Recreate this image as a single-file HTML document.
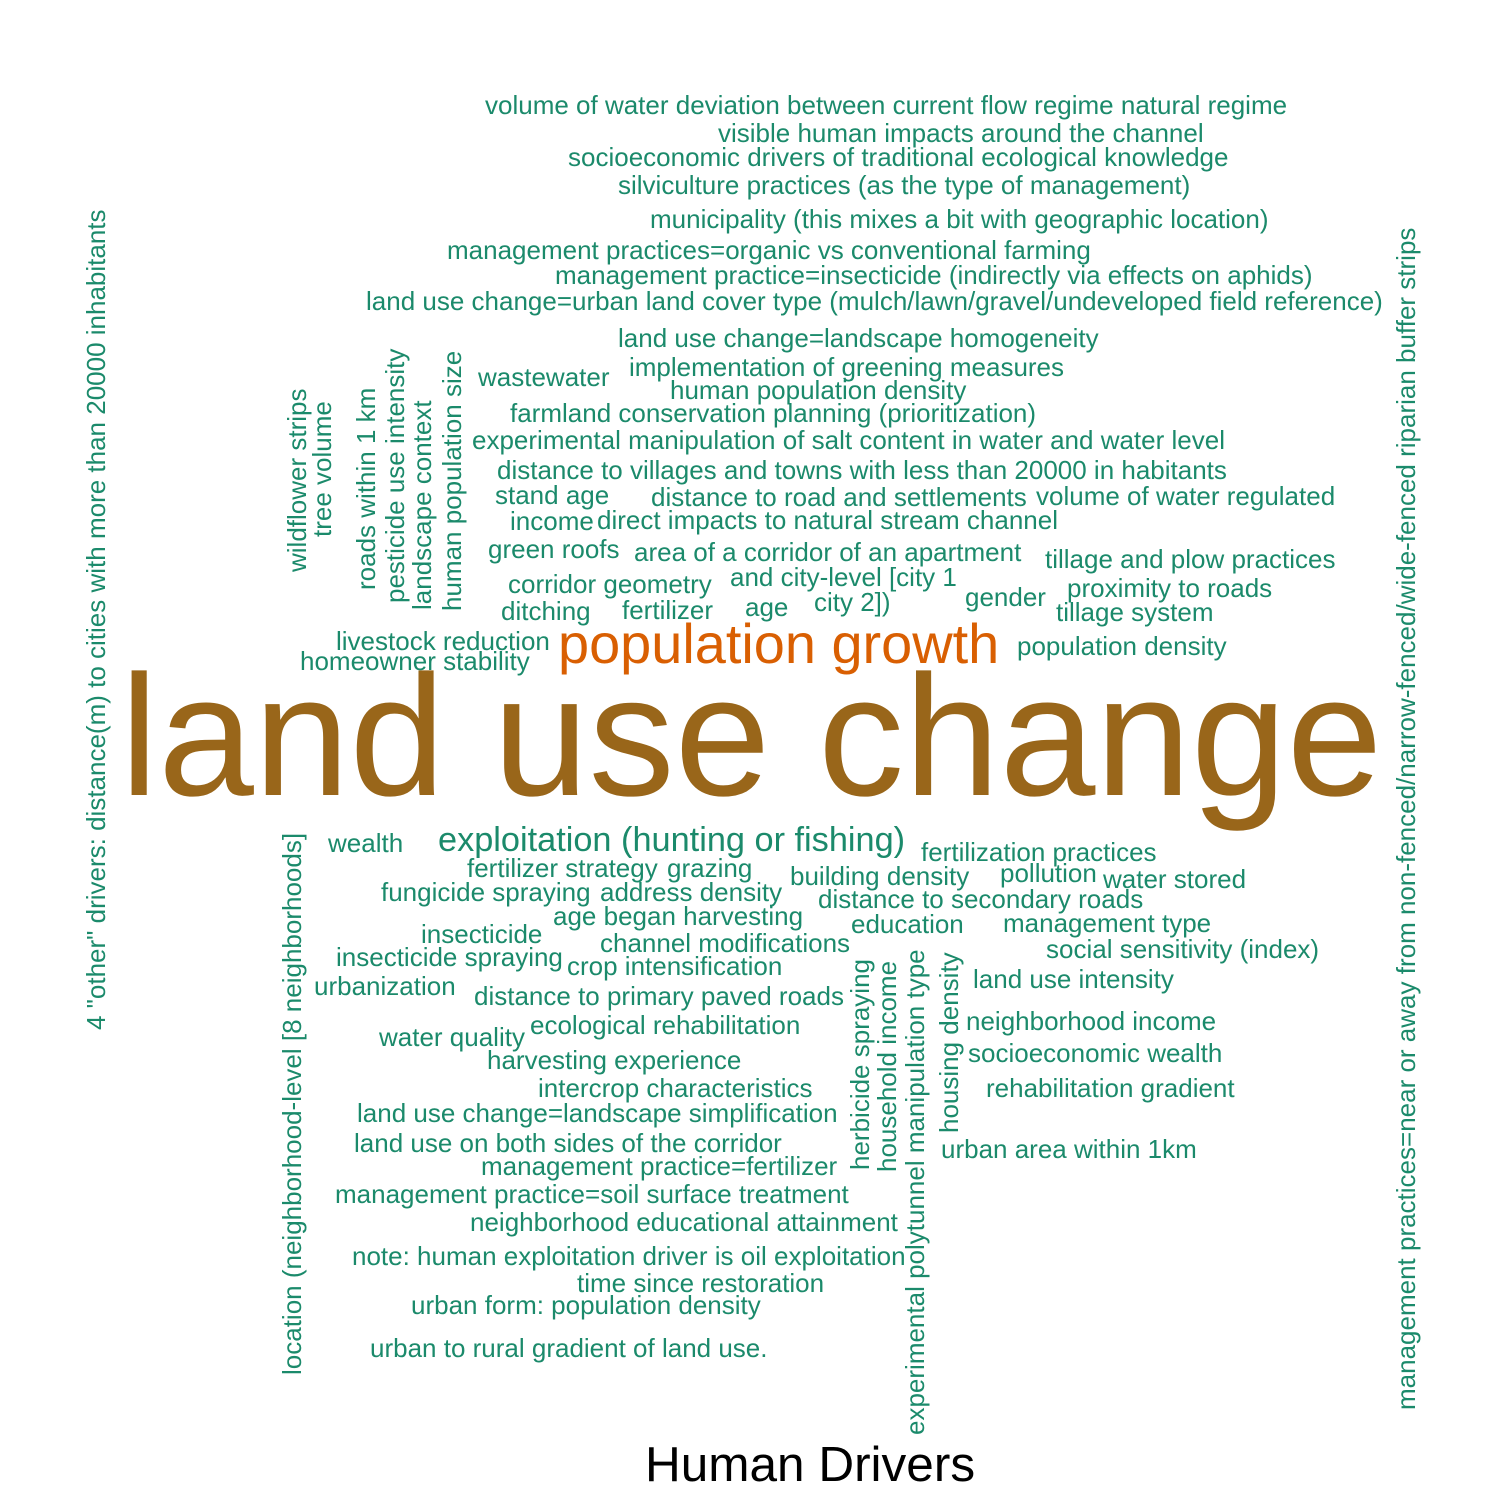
<!DOCTYPE html>
<html><head><meta charset="utf-8"><style>
html,body{margin:0;padding:0;background:#fff;}
svg{display:block;}
text{font-family:"Liberation Sans",Arial,sans-serif;}
</style></head><body>
<svg id="cloud" width="1500" height="1500" viewBox="0 0 1500 1500" xmlns="http://www.w3.org/2000/svg">
<rect width="1500" height="1500" fill="#fff"/>
<text x="645" y="1481" font-size="49.5" fill="#000">Human Drivers</text>
</svg>
<script>
const G="#1b8a6b";
const words=["land use change","population growth","exploitation (hunting or fishing)"];
const bigX=[120,558,438], bigY=[795,663,851], bigSize=[172,55.9,34.3], bigColor=["#99661a","#d95f02",G];
const small=[
["volume of water deviation between current flow regime natural regime",485,105],
["visible human impacts around the channel",718,133],
["socioeconomic drivers of traditional ecological knowledge",568,157],
["silviculture practices (as the type of management)",618,185],
["municipality (this mixes a bit with geographic location)",650,219],
["management practices=organic vs conventional farming",447,250],
["management practice=insecticide (indirectly via effects on aphids)",555,275],
["land use change=urban land cover type (mulch/lawn/gravel/undeveloped field reference)",366,301],
["land use change=landscape homogeneity",618,338],
["implementation of greening measures",629,367],
["wastewater",478,377],
["human population density",670,390],
["farmland conservation planning (prioritization)",510,413],
["experimental manipulation of salt content in water and water level",472,440],
["distance to villages and towns with less than 20000 in habitants",497,470],
["stand age",495,495],
["distance to road and settlements",651,497],
["volume of water regulated",1036,496],
["income",510,521],
["direct impacts to natural stream channel",597,520],
["green roofs",488,549],
["area of a corridor of an apartment",634,552],
["tillage and plow practices",1045,559],
["corridor geometry",508,584],
["and city-level [city 1",730,577],
["proximity to roads",1067,588],
["city 2])",814,602],
["gender",965,597],
["tillage system",1056,612],
["ditching",501,611],
["fertilizer",622,610],
["age",745,607],
["livestock reduction",336,641],
["population density",1017,646],
["homeowner stability",300,661],
["wealth",328,843],
["fertilization practices",921,852],
["fertilizer strategy",467,868],
["grazing",667,868],
["pollution",1000,873],
["building density",790,876],
["water stored",1103,879],
["fungicide spraying",381,892],
["address density",600,892],
["distance to secondary roads",818,899],
["age began harvesting",553,916],
["education",851,924],
["management type",1003,923],
["insecticide",421,934],
["channel modifications",600,943],
["social sensitivity (index)",1046,949],
["insecticide spraying",336,957],
["crop intensification",567,966],
["land use intensity",973,979],
["urbanization",314,986],
["distance to primary paved roads",474,996],
["ecological rehabilitation",530,1025],
["neighborhood income",966,1021],
["water quality",379,1037],
["socioeconomic wealth",968,1053],
["harvesting experience",487,1060],
["rehabilitation gradient",986,1088],
["intercrop characteristics",538,1088],
["land use change=landscape simplification",357,1113],
["land use on both sides of the corridor",354,1143],
["urban area within 1km",941,1149],
["management practice=fertilizer",481,1166],
["management practice=soil surface treatment",335,1194],
["neighborhood educational attainment",470,1222],
["note: human exploitation driver is oil exploitation",352,1256],
["time since restoration",577,1283],
["urban form: population density",411,1305],
["urban to rural gradient of land use.",370,1348]
];
const vert=[
["4 \"other\" drivers: distance(m) to cities with more than 20000 inhabitants",97,1030],
["management practices=near or away from non-fenced/narrow-fenced/wide-fenced riparian buffer strips",1407,1410],
["wildflower strips",298,572],
["tree volume",323,537],
["roads within 1 km",367,590],
["pesticide use intensity",396,603],
["landscape context",423,610],
["human population size",453,611],
["location (neighborhood-level [8 neighborhoods]",293,1375],
["herbicide spraying",861,1170],
["household income",888,1172],
["experimental polytunnel manipulation type",916,1435],
["housing density",950,1133]
];
const svg=document.getElementById('cloud');
const NS="http://www.w3.org/2000/svg";
function slug(s){return s.toLowerCase().replace(/[^a-z0-9]+/g,'-').replace(/^-|-$/g,'').slice(0,40);}
words.forEach((w,i)=>{
  const t=document.createElementNS(NS,'text');
  t.setAttribute('x',bigX[i]);t.setAttribute('y',bigY[i]);
  t.setAttribute('font-size',bigSize[i]);t.setAttribute('fill',bigColor[i]);
  t.textContent=w;
  
  
  svg.appendChild(t);
});
small.forEach(([w,x,y])=>{
  const t=document.createElementNS(NS,'text');
  t.setAttribute('x',x);t.setAttribute('y',y+9);
  t.setAttribute('font-size',26);t.setAttribute('fill',G);
  t.textContent=w;
  
  
  svg.appendChild(t);
});
vert.forEach(([w,x,y])=>{
  const t=document.createElementNS(NS,'text');
  t.setAttribute('transform','translate('+(x+8)+','+y+') rotate(-90)');
  t.setAttribute('font-size',26);t.setAttribute('fill',G);
  t.textContent=w;
  
  
  svg.appendChild(t);
});
</script>
</body></html>
